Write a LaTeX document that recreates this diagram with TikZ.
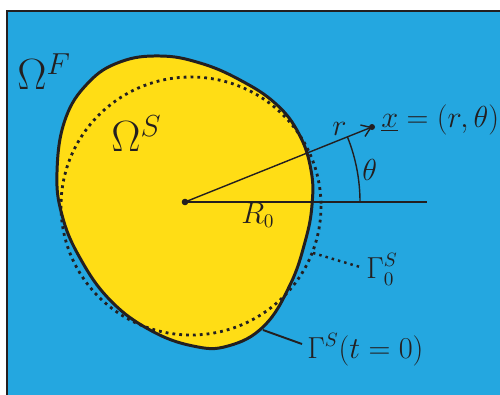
\documentclass[tikz,border=0pt]{standalone}
\usetikzlibrary{arrows.meta}
\definecolor{skyblue}{RGB}{36,167,224}
\definecolor{sunyellow}{RGB}{255,221,21}
\definecolor{inkdark}{RGB}{35,31,32}
\begin{document}
\begin{tikzpicture}[x=0.02cm,y=-0.02cm,
  lbl/.style={inner sep=0pt,text=inkdark,font=\fontsize{16}{19}\selectfont},
  biglbl/.style={inner sep=0pt,text=inkdark,font=\fontsize{24}{28}\selectfont},
  thin line/.style={draw=inkdark,line width=0.8pt},
  dotcircle/.style={draw=inkdark,line width=1.6pt,dash pattern=on 1.6pt off 2.3pt}]
\useasboundingbox (0,0) rectangle (500,395);
% fluid domain
\draw[fill=skyblue,draw=inkdark,line width=0.6pt] (7,11) rectangle (515,410);
% solid body
\draw[fill=sunyellow,draw=inkdark,line width=1.7pt] plot[smooth cycle,tension=0.7] coordinates {
 (57,172) (65,120) (88,83) (120,62) (160,56) (200,63) (240,80) (276,104)
 (299,134) (311,170) (312,205) (305,242) (290,285) (264,326) (228,346) (193,346)
 (150,330) (110,300) (80,258) (62,215)};
% reference circle
\draw[dotcircle] (191,206) ellipse[x radius=130,y radius=129];
% center and point
\coordinate (O) at (185,202);
\coordinate (X) at (372,127);
\coordinate (H) at (427,202);
\draw[thin line] (O) -- (H);
\draw[thin line,-{Straight Barb[length=5pt,width=7pt]}] (O) -- (X);
\fill[inkdark] (O) circle[radius=3.3];
\fill[inkdark] (X) circle[radius=3];
\draw[thin line] (O) ++(0:175) arc[start angle=0,end angle=-21.85,radius=175];
% labels
\node[biglbl,anchor=base west] (omF) at (17,90) {$\Omega^F$};
\node[biglbl,anchor=base west] (omS) at (111,152) {$\Omega^S$};
\node[lbl,anchor=base west] (xl) at (381,128) {$\underline{x}=(r,\theta)$};
\node[lbl,anchor=base west] (rl) at (332,135) {$r$};
\node[lbl,anchor=base west] (thl) at (362,180) {$\theta$};
\node[lbl,anchor=base west] (R0) at (241,223) {$R_0$};
\node[lbl,anchor=base west] (G0) at (366,278) {$\Gamma_0^S$};
\node[lbl,anchor=base west] (GS) at (307,358) {$\Gamma^S(t=0)$};
% leaders
\coordinate (g0a) at (313,253);
\coordinate (g0b) at (360,267);
\coordinate (gsa) at (263,330);
\coordinate (gsb) at (302,344);
\draw[dotcircle,line width=1.4pt,dash pattern=on 1.4pt off 2.3pt] (g0a) -- (g0b);
\draw[draw=inkdark,line width=1.1pt] (gsa) -- (gsb);
\end{tikzpicture}
\end{document}
